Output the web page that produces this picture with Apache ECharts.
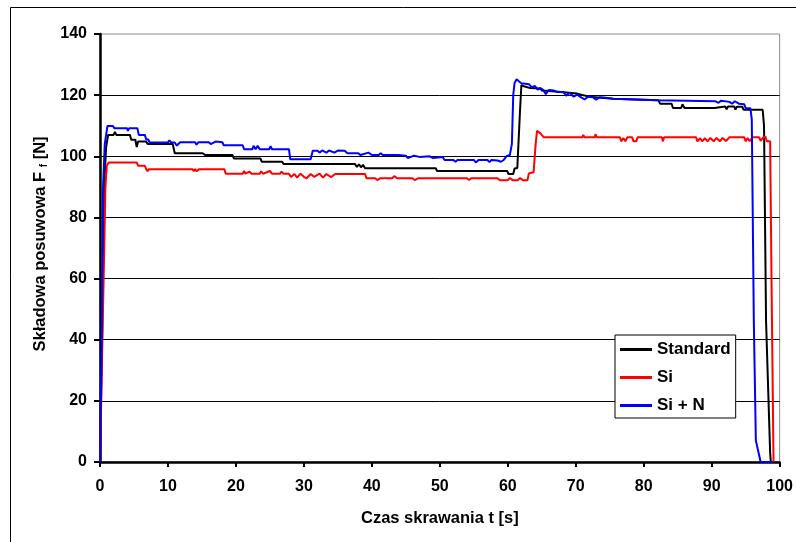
<!DOCTYPE html>
<html>
<head>
<meta charset="utf-8">
<script src="https://cdn.jsdelivr.net/npm/echarts@6/dist/echarts.min.js"></script>
<style>
html,body{margin:0;padding:0;background:#fff;}
#chart{width:796px;height:542px;}
</style>
</head>
<body>
<div id="chart"></div>
<script>
// Series names
const seriesNames = ['Standard', 'Si', 'Si + N'];

// Standard (black): [time s, force N]
const standardData = [
  [0,0],[0.3,40],[0.6,90],[0.9,103],[1.2,107],[2.0,107],[2.2,108],[2.4,107],[4.4,107],[4.6,105.4],[5.2,105.4],[5.4,103],[5.6,104.8],
  [6.8,104.8],[7,104],[10.7,104],[11,101],[15.1,101],[15.3,101.6],[15.5,100.4],[19.5,100.4],[19.7,99.3],[23.6,99.3],[23.8,98.2],
  [26.8,98.2],[27,97.5],[37.5,97.5],[37.8,96.5],[38.1,97.4],[38.4,96.4],[38.7,97.2],[39,96.1],[49.4,96.1],[49.6,95.2],[59.9,95.2],
  [60.1,94.2],[60.8,94.2],[61,96],[61.4,96.2],[61.8,115],[62,123.3],[62.5,122.8],[63.3,122.3],[64.8,122.2],[65,121.5],[67,121.2],
  [70.2,120.5],[72,119.5],[75.5,118.8],[82.2,118.3],[82.4,117.2],[84.1,117.2],[84.3,115.8],[85.5,115.8],[85.7,117],[86,115.8],
  [90.4,115.8],[90.6,116.3],[92,116.3],[92.2,115.4],[92.4,116.3],[93.3,116.3],[93.5,115.3],[93.7,116.2],[94.5,116.2],[94.7,115.2],
  [97.5,115.2],[97.7,110],[98,46],[98.6,3],[98.7,0]
];

// Si (red)
const siData = [
  [0,0],[0.4,45],[0.8,90],[1.0,97],[1.3,98],[5.4,98],[5.6,96.9],[6.6,96.9],[6.8,95.8],[7.0,95.1],[7.2,95.8],[13.6,95.8],[13.8,95.1],
  [14.0,95.8],[14.2,95.1],[14.6,95.8],[18.3,95.8],[18.5,94.3],[21,94.3],[21.2,95.2],[21.4,94.3],[22,95],[22.3,94.3],[23.5,94.3],
  [23.7,95.1],[24,94.3],[25,95.2],[25.3,94.3],[26.5,94.3],[26.7,95],[27,94.3],[27.8,94.3],[28.1,93.2],[28.6,94.2],[29,93],
  [29.5,94.3],[30,93.3],[30.4,92.8],[31,94.2],[31.5,93.3],[32.3,94.3],[32.8,93],[33.3,94.2],[34,93.2],[34.6,94.2],[39,94.2],
  [39.2,92.8],[40.5,92.8],[40.8,92.2],[41.2,92.8],[43,92.8],[43.3,93.5],[43.7,92.8],[46,92.8],[46.3,92.2],[46.8,92.8],[49,92.8],
  [49.2,92.2],[49.6,92.8],[54,92.8],[54.3,92.2],[54.6,92.8],[58.5,92.8],[58.8,92.2],[60,92.2],[60.3,92.9],[60.7,92.2],[61.5,92.2],
  [61.8,92.9],[62.2,92.2],[62.9,92.2],[63.1,94.4],[63.8,94.8],[64.1,104],[64.3,108.3],[64.8,107.5],[65.3,106.2],[71,106.2],[71.1,107],
  [71.3,106.2],[72.8,106.2],[72.9,107.2],[73.1,106.2],[76.5,106.2],[76.7,104.9],[77,106],[77.3,104.9],[77.6,106.2],[78.3,106.2],
  [78.5,104.9],[78.9,104.9],[79.1,106.2],[82.7,106.2],[82.8,104.9],[83,106.2],[87.7,106.2],[87.9,104.9],[88.3,105.9],[88.6,104.9],
  [89,105.9],[89.4,104.9],[89.8,106],[90.3,104.9],[90.7,106],[91.2,104.9],[91.6,106],[92.1,105],[92.6,106.2],[94.8,106.2],[95,104.9],
  [95.3,106],[95.6,104.9],[96,106.2],[97,106.2],[97.2,105],[97.5,106],[97.9,106.5],[98.1,104.9],[98.6,104.9],[98.8,60],[99.1,0]
];

// Si + N (blue)
const siNData = [
  [0,0],[0.25,40],[0.45,90],[0.7,104],[1.0,108.5],[1.1,109.9],[1.9,109.9],[2.1,109.2],[4,109.2],[4.1,108.3],[4.3,109.2],[5.5,109.2],
  [5.7,107],[6.6,107],[6.8,105.5],[7.1,105.5],[7.3,104.5],[10,104.5],[10.2,105.2],[10.5,104.5],[11,104.5],[11.3,103.5],[11.8,104.6],
  [14,104.6],[14.2,103.8],[14.5,104.6],[16,104.6],[16.3,104],[17,104.8],[18,104.6],[18.2,103.6],[21,103.6],[21.2,102.3],[22.4,102.3],
  [22.6,103.4],[22.9,102.3],[23.2,103.4],[23.5,102.3],[24.9,102.3],[25.1,103.3],[25.3,102.3],[27.8,102.3],[28,99],[31,99],[31.3,101.8],
  [32,101.8],[32.3,101.2],[32.7,101.9],[33.3,101.2],[33.7,101.9],[34.5,101.2],[35,101.9],[36,101.8],[36.4,101],[38,101],[38.3,100.4],
  [39.5,101.2],[40,100.4],[41,100.4],[41.3,101],[41.6,100.4],[43.9,100.4],[44.1,99.8],[45,100.2],[45.3,99.4],[46.2,100.2],[47,99.8],
  [48.5,100],[49,99.4],[50.4,99.8],[50.7,98.8],[52,98.8],[52.3,98.2],[52.6,98.8],[55,98.8],[55.3,98],[55.7,98.8],[57,98.8],[57.3,98.1],
  [57.6,98.8],[58.5,98.6],[59,98.2],[59.4,98.8],[59.8,100],[60.3,100.4],[60.6,104],[60.8,120],[61,124],[61.3,125.2],[61.7,124.4],
  [62,123.9],[63.1,123.6],[63.5,122.6],[64,123],[64.4,121.8],[64.8,122.3],[65.2,121.7],[65.6,120.3],[66,121.7],[66.8,121.5],[67.3,121],
  [68.2,121],[68.6,119.8],[69.1,120.8],[69.7,119.5],[70.2,120.2],[70.6,119.5],[71.3,118.6],[71.8,119.5],[72.5,119.3],[73,118.5],
  [73.5,119.3],[74.1,119.2],[75.5,118.8],[81.9,118.3],[90.6,118],[91,117.5],[91.4,118.2],[92.6,117.8],[93,117.2],[93.4,118],[94,117.2],
  [94.8,117],[95,115.7],[95.7,115.7],[95.9,112],[96.2,46],[96.5,7],[96.9,3],[97.2,0],[99,0]
];

// Axis ticks
const xTicks = {min: 0, max: 100, interval: 10};
const yTicks = {min: 0, max: 140, interval: 20};

const FONT = '"Liberation Sans", Arial, Helvetica, sans-serif';
const chart = echarts.init(document.getElementById('chart'), null, {renderer: 'canvas'});

const colors = ['#000000', '#ff0000', '#0000ff'];
const datasets = [standardData, siData, siNData];

chart.setOption({
  animation: false,
  backgroundColor: '#ffffff',
  graphic: [{
    type: 'rect',
    shape: {x: 10.5, y: 7.5, width: 900, height: 700},
    style: {fill: 'none', stroke: '#000', lineWidth: 1},
    silent: true, z: -10
  }],
  grid: {
    left: 100, right: 12, top: 34, bottom: 80,
    show: true, borderColor: '#8c8c8c', borderWidth: 1, backgroundColor: 'transparent'
  },
  legend: {
    orient: 'vertical',
    left: 615, top: 335,
    data: seriesNames,
    icon: 'rect',
    itemWidth: 32, itemHeight: 3,
    itemGap: 11,
    padding: [6, 5, 4, 5],
    backgroundColor: '#fff',
    borderColor: '#000', borderWidth: 1,
    textStyle: {fontFamily: FONT, fontWeight: 'bold', fontSize: 17, lineHeight: 17, color: '#000'}
  },
  xAxis: {
    type: 'value',
    min: xTicks.min, max: xTicks.max, interval: xTicks.interval,
    name: 'Czas skrawania t [s]',
    nameLocation: 'middle', nameGap: 48,
    nameTextStyle: {fontFamily: FONT, fontWeight: 'bold', fontSize: 16.5, color: '#000'},
    axisLine: {lineStyle: {color: '#000', width: 2.5}},
    axisTick: {length: 5, lineStyle: {color: '#000', width: 2}},
    axisLabel: {fontFamily: FONT, fontWeight: 'bold', fontSize: 16, color: '#000', margin: 17},
    splitLine: {show: false}
  },
  yAxis: {
    type: 'value',
    min: yTicks.min, max: yTicks.max, interval: yTicks.interval,
    name: 'Składowa posuwowa F {sub|f} [N]',
    nameLocation: 'middle', nameGap: 49, nameRotate: 90,
    nameTextStyle: {
      fontFamily: FONT, fontWeight: 'bold', fontSize: 16.5, color: '#000', padding: [0, 0, 0, 8],
      rich: {sub: {fontFamily: FONT, fontWeight: 'bold', fontSize: 10, color: '#000', verticalAlign: 'bottom', padding: [5,0,0,0]}}
    },
    axisLine: {show: true, lineStyle: {color: '#000', width: 2.5}},
    axisTick: {show: true, length: 6, lineStyle: {color: '#000', width: 2}},
    axisLabel: {fontFamily: FONT, fontWeight: 'bold', fontSize: 16, color: '#000', margin: 13},
    splitLine: {show: true, showMaxLine: false, lineStyle: {color: '#000', width: 1}}
  },
  series: seriesNames.map((name, i) => ({
    name: name,
    type: 'line',
    data: datasets[i],
    symbol: 'none',
    showSymbol: false,
    lineStyle: {color: colors[i], width: 2},
    itemStyle: {color: colors[i]},
    z: 3 + i
  }))
});
</script>
</body>
</html>
